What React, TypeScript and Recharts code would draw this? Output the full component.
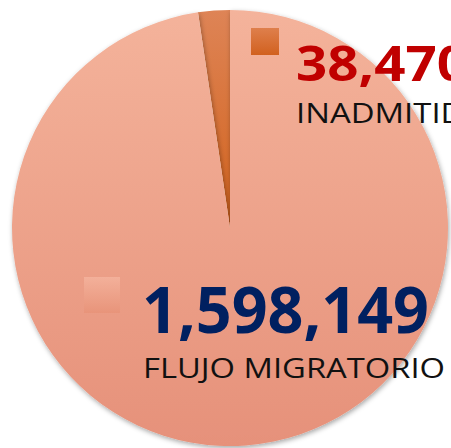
import { PieChart, Pie, Cell } from 'recharts';

// Pasajeros: inadmitidos vs flujo migratorio
const categories = ['INADMITIDOS', 'FLUJO MIGRATORIO'];
const values = [38470, 1598149];
const sliceTop = ['#DE8456', '#F4B39B'];
const sliceBottom = ['#D2621C', '#E6917A'];
const valueColors = ['#C00000', '#002060'];

const data = categories.map((name, i) => ({ name, value: values[i] }));

const FONT = '"Open Sans", "DejaVu Sans", sans-serif';

// legend blocks placed over the pie, same look as the original slide
const legendLayout = [
  { sq: [251, 28, 28, 27], vx: 296, vy: 81, vSize: 49, vLen: 172, lx: 296, ly: 123, lLen: 212 },
  { sq: [84, 277, 36, 36], vx: 142, vy: 333, vSize: 65, vLen: 287, lx: 143, ly: 378, lLen: 302 },
];

function LegendBlocks() {
  return (
    <svg width={451} height={448} style={{ position: 'absolute', left: 0, top: 0, pointerEvents: 'none' }}>
      <defs>
        <linearGradient id="sq-0" x1="0" y1="0" x2="0" y2="1">
          <stop offset="0%" stopColor="#DF7F4C" />
          <stop offset="100%" stopColor="#D1611F" />
        </linearGradient>
        <linearGradient id="sq-1" x1="0" y1="0" x2="0" y2="1">
          <stop offset="0%" stopColor="#F3B09A" />
          <stop offset="100%" stopColor="#E8947A" />
        </linearGradient>
      </defs>
      {data.map((d, i) => {
        const l = legendLayout[i];
        return (
          <g key={d.name}>
            <rect x={l.sq[0]} y={l.sq[1]} width={l.sq[2]} height={l.sq[3]} fill={`url(#sq-${i})`} />
            <text
              x={l.vx}
              y={l.vy}
              fontFamily={FONT}
              fontWeight={700}
              fontSize={l.vSize}
              fill={valueColors[i]}
              textLength={l.vLen}
              lengthAdjust="spacingAndGlyphs"
            >
              {d.value.toLocaleString('en-US')}
            </text>
            <text
              x={l.lx}
              y={l.ly}
              fontFamily={FONT}
              fontSize={28}
              fill="#111111"
              textLength={l.lLen}
              lengthAdjust="spacingAndGlyphs"
            >
              {d.name}
            </text>
          </g>
        );
      })}
    </svg>
  );
}

export default function App() {
  return (
    <div style={{ position: 'absolute', left: 0, top: 0, width: 451, height: 448, background: '#fff', overflow: 'hidden' }}>
      <PieChart width={451} height={448} margin={{ top: 0, right: 0, bottom: 0, left: 0 }}>
        <defs>
          {data.map((_, i) => (
            <linearGradient key={`g-${i}`} id={`slice-${i}`} x1="0" y1="0" x2="0" y2="1">
              <stop offset="0%" stopColor={sliceTop[i]} />
              <stop offset="100%" stopColor={sliceBottom[i]} />
            </linearGradient>
          ))}
          <filter id="pie-shadow" x="-10%" y="-10%" width="120%" height="120%">
            <feDropShadow dx="1" dy="2" stdDeviation="2.5" floodColor="#000" floodOpacity="0.35" />
          </filter>
        </defs>
        <Pie
          data={data}
          dataKey="value"
          nameKey="name"
          cx={230}
          cy={228}
          innerRadius={0}
          outerRadius={218}
          startAngle={90}
          endAngle={450}
          stroke="none"
          isAnimationActive={false}
        >
          {data.map((_, i) => (
            <Cell key={`cell-${i}`} fill={`url(#slice-${i})`} filter={i === 1 ? 'url(#pie-shadow)' : undefined} />
          ))}
        </Pie>
      </PieChart>
      <LegendBlocks />
    </div>
  );
}
